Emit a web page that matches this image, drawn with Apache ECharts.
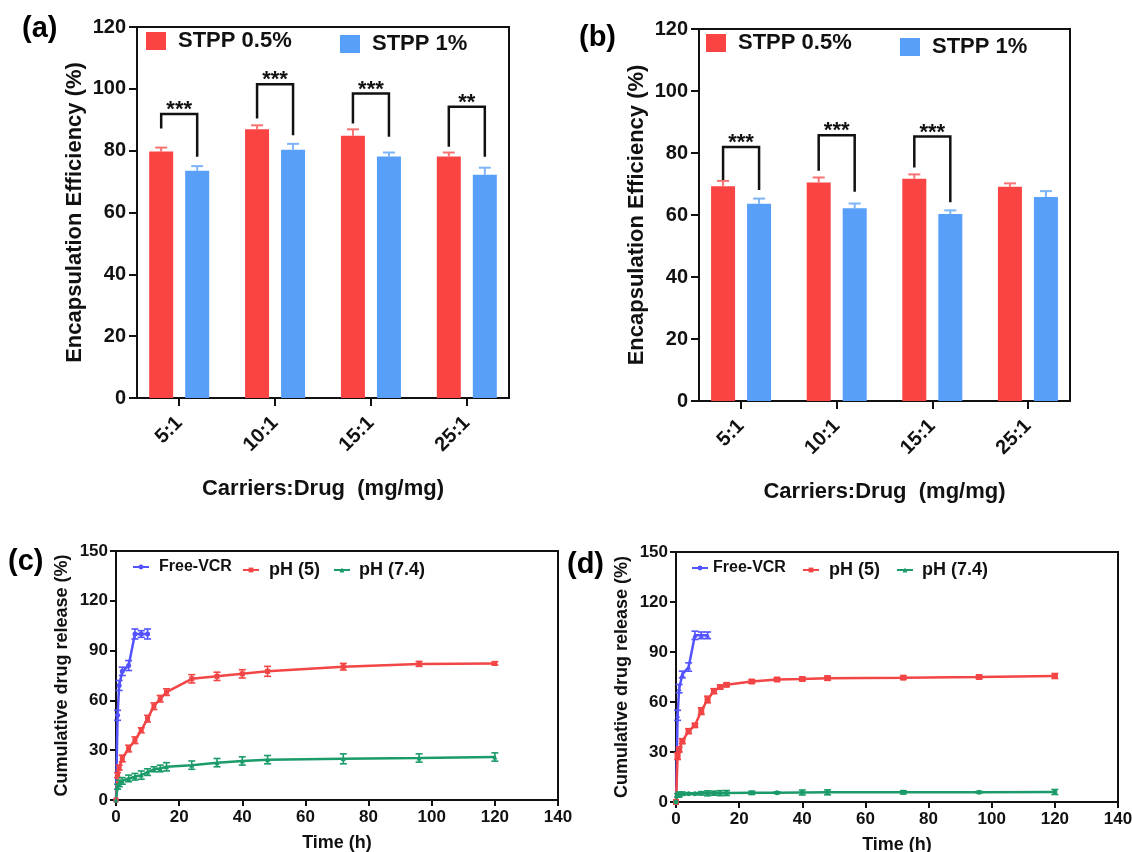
<!DOCTYPE html>
<html>
<head>
<meta charset="utf-8">
<title>Encapsulation efficiency and cumulative drug release</title>
<script src="https://cdn.jsdelivr.net/npm/echarts@6/dist/echarts.min.js"></script>
<style>
  html, body { margin: 0; padding: 0; background: #fff; }
  #chart { width: 1132px; height: 852px; }
</style>
</head>
<body>
<div id="chart"></div>
<script>
// ---- values ----
const ratios = ['5:1', '10:1', '15:1', '25:1'];
const ratioX = [1, 2, 3, 4];

// (a) encapsulation efficiency
const eeA05 = [79.7, 86.9, 84.8, 78.1];
const eeA05Err = [1.3, 1.3, 2.1, 1.3];
const eeA1 = [73.5, 80.3, 78.1, 72.2];
const eeA1Err = [1.5, 1.9, 1.3, 2.3];
const sigATop = [91.9, 101.5, 98.5, 94.2];
const sigALeft = [87.2, 90.4, 88.8, 81.3];
const sigARight = [78.0, 85.0, 84.5, 78.0];
const sigAStars = ['***', '***', '***', '**'];

// (b) encapsulation efficiency
const eeB05 = [69.3, 70.5, 71.7, 69.1];
const eeB05Err = [1.7, 1.6, 1.4, 1.1];
const eeB1 = [63.6, 62.2, 60.3, 65.8];
const eeB1Err = [1.7, 1.5, 1.2, 1.9];
const sigBTop = [81.9, 85.7, 85.3];
const sigBLeft = [71.3, 74.3, 75.3];
const sigBRight = [68.1, 67.5, 64.1];
const sigBStars = ['***', '***', '***'];

// (c), (d) release profiles
const tFree = [0, 0.5, 1, 2, 4, 6, 8, 10];
const tRel = [0, 0.5, 1, 2, 4, 6, 8, 10, 12, 14, 16, 24, 32, 40, 48, 72, 96, 120];

const freeC = [0, 51, 69, 77.5, 81, 100, 100, 100];
const freeCErr = [0, 3, 3, 2.5, 3, 3, 2, 3];
const ph5C = [0, 15, 19.5, 25, 31, 36, 42, 49, 56.5, 61, 65, 73, 74.5, 76, 77.5, 80.3, 82, 82.3];
const ph5CErr = [0, 1.5, 1.5, 2, 2, 2, 1.5, 2, 2, 2, 2, 2.5, 2.5, 2.5, 3, 2, 1.5, 1];
const ph74C = [0, 8, 10, 11.5, 13, 14, 15, 16.8, 18.5, 19, 20, 21, 22.5, 23.5, 24.3, 24.8, 25.3, 25.9];
const ph74CErr = [0, 1.5, 2, 2, 2, 2, 2.5, 2, 1.5, 2, 2.5, 2.5, 2.5, 2.5, 2.5, 3, 2.5, 2.5];

const freeD = [0, 52, 68, 76.5, 81, 100, 100, 100];
const freeDErr = [0, 3, 2.5, 2, 2.5, 2.5, 2, 2];
const ph5D = [0, 27.5, 31.5, 36.5, 42.5, 46, 54.5, 61.5, 66.5, 69, 70.3, 72.3, 73.5, 73.8, 74.3, 74.6, 75, 75.6];
const ph5DErr = [0, 2, 1.5, 1.5, 1.5, 1, 2, 2, 1.5, 1, 1, 1, 1, 1, 1.2, 0.8, 1, 1.5];
const ph74D = [0, 4, 4.5, 5, 5, 5, 5.2, 5.2, 5.3, 5.3, 5.4, 5.5, 5.6, 5.7, 5.8, 5.8, 5.9, 6];
const ph74DErr = [0, 1, 1.5, 1, 0.5, 0.5, 1, 1.5, 1.2, 1.5, 1.5, 1, 0.5, 1.5, 1.5, 1, 0.5, 1.5];

// ---- styling ----
const FONT = '"Liberation Sans", Arial, Helvetica, sans-serif';
const INK = '#111';
const RED = '#FA4343';
const BLUE = '#579FF9';
const RED_ERR = '#F87272';
const BLUE_ERR = '#7DB4F8';
const C_FREE = '#5353FF';
const C_PH5 = '#F24545';
const C_PH74 = '#1B9B69';

const BAR_W = 24;
const PAIR_DX = 18; // half of bar width + half of gap

const bold = (size) => ({ fontFamily: FONT, fontWeight: 'bold', fontSize: size, color: INK });

function pairs(xs, ys, es) {
  return xs.map((x, i) => (es ? [x, ys[i], es[i]] : [x, ys[i]]));
}

function barSeries(axis, name, color, values) {
  return {
    type: 'bar', name: name, xAxisIndex: axis, yAxisIndex: axis,
    barWidth: BAR_W, barGap: '50%', z: 2,
    itemStyle: { color: color },
    data: pairs(ratioX, values)
  };
}

// upper whisker only, the lower half is hidden by the bar
function barErrorSeries(axis, dx, color, values, errs) {
  return {
    type: 'custom', xAxisIndex: axis, yAxisIndex: axis, z: 3, silent: true,
    data: pairs(ratioX, values, errs),
    renderItem: (params, api) => {
      const base = api.coord([api.value(0), api.value(1)]);
      const top = api.coord([api.value(0), api.value(1) + api.value(2)]);
      const x = base[0] + dx;
      const st = { stroke: color, lineWidth: 2 };
      return {
        type: 'group',
        children: [
          { type: 'line', shape: { x1: x, y1: base[1], x2: x, y2: top[1] }, style: st },
          { type: 'line', shape: { x1: x - 6, y1: top[1], x2: x + 6, y2: top[1] }, style: st }
        ]
      };
    }
  };
}

function bracketSeries(axis, tops, lefts, rights, stars) {
  return {
    type: 'custom', xAxisIndex: axis, yAxisIndex: axis, z: 4, silent: true,
    data: tops.map((t, i) => [ratioX[i], t, lefts[i], rights[i]]),
    renderItem: (params, api) => {
      const x = api.value(0);
      const top = api.coord([x, api.value(1)]);
      const yl = api.coord([x, api.value(2)])[1];
      const yr = api.coord([x, api.value(3)])[1];
      const xl = top[0] - PAIR_DX;
      const xr = top[0] + PAIR_DX;
      return {
        type: 'group',
        children: [
          {
            type: 'polyline',
            shape: { points: [[xl, yl], [xl, top[1]], [xr, top[1]], [xr, yr]] },
            style: { stroke: INK, lineWidth: 2.5, fill: null, lineJoin: 'miter' }
          },
          {
            type: 'text', x: top[0], y: top[1] - 4,
            style: {
              text: stars[params.dataIndex], fill: INK,
              font: 'bold 22px ' + FONT, align: 'center', verticalAlign: 'middle'
            }
          }
        ]
      };
    }
  };
}

function lineSeries(axis, name, color, symbol, size, xs, ys) {
  return {
    type: 'line', name: name, xAxisIndex: axis, yAxisIndex: axis, z: 3,
    symbol: symbol, symbolSize: size, showSymbol: true,
    lineStyle: { color: color, width: 2.5 },
    itemStyle: { color: color },
    data: pairs(xs, ys)
  };
}

function lineErrorSeries(axis, color, xs, ys, es) {
  return {
    type: 'custom', xAxisIndex: axis, yAxisIndex: axis, z: 4, silent: true,
    data: pairs(xs, ys, es),
    renderItem: (params, api) => {
      const e = api.value(2);
      if (!e) return null;
      const hi = api.coord([api.value(0), api.value(1) + e]);
      const lo = api.coord([api.value(0), api.value(1) - e]);
      const x = hi[0];
      const st = { stroke: color, lineWidth: 1.6 };
      return {
        type: 'group',
        children: [
          { type: 'line', shape: { x1: x, y1: lo[1], x2: x, y2: hi[1] }, style: st },
          { type: 'line', shape: { x1: x - 3.5, y1: hi[1], x2: x + 3.5, y2: hi[1] }, style: st },
          { type: 'line', shape: { x1: x - 3.5, y1: lo[1], x2: x + 3.5, y2: lo[1] }, style: st }
        ]
      };
    }
  };
}

const axisLine = { show: true, onZero: false, lineStyle: { color: INK, width: 2 } };

function ratioXAxis(grid) {
  return {
    type: 'value', gridIndex: grid, min: 0.56, max: 4.44,
    name: 'Carriers:Drug  (mg/mg)', nameLocation: 'middle', nameGap: 80,
    nameMoveOverlap: false,
    nameTextStyle: bold(22),
    axisLine: axisLine,
    axisTick: { show: true, length: 8, customValues: ratioX, lineStyle: { color: INK, width: 2 } },
    axisLabel: Object.assign(bold(20), {
      customValues: ratioX, rotate: 45, margin: 22,
      formatter: (v) => ratios[Math.round(v) - 1]
    }),
    splitLine: { show: false }
  };
}

function eeYAxis(grid) {
  return {
    type: 'value', gridIndex: grid, min: 0, max: 120, interval: 20,
    name: 'Encapsulation Efficiency (%)', nameLocation: 'middle', nameGap: 51, nameRotate: 90,
    nameMoveOverlap: false,
    nameTextStyle: bold(22),
    axisLine: axisLine,
    axisTick: { show: true, length: 8, lineStyle: { color: INK, width: 2 } },
    axisLabel: Object.assign(bold(20), { margin: 11 }),
    splitLine: { show: false }
  };
}

function timeXAxis(grid) {
  return {
    type: 'value', gridIndex: grid, min: 0, max: 140, interval: 20,
    name: 'Time (h)', nameLocation: 'middle', nameGap: 34,
    nameMoveOverlap: false,
    nameTextStyle: bold(18),
    axisLine: axisLine,
    axisTick: { show: true, length: 6, lineStyle: { color: INK, width: 2 } },
    axisLabel: Object.assign(bold(17), { margin: 9 }),
    splitLine: { show: false }
  };
}

function releaseYAxis(grid) {
  return {
    type: 'value', gridIndex: grid, min: 0, max: 150, interval: 30,
    name: 'Cumulative drug release (%)', nameLocation: 'middle', nameGap: 45, nameRotate: 90,
    nameMoveOverlap: false,
    nameTextStyle: bold(18),
    axisLine: axisLine,
    axisTick: { show: true, length: 6, lineStyle: { color: INK, width: 2 } },
    axisLabel: Object.assign(bold(17), { margin: 8 }),
    splitLine: { show: false }
  };
}

function barLegend(name, left, top) {
  return {
    data: [name], left: left, top: top, padding: 0,
    icon: 'rect', itemWidth: 20, itemHeight: 18,
    textStyle: Object.assign(bold(22), { padding: [0, 0, 0, 7] })
  };
}

function lineLegend(name, left, top, size, gap) {
  return {
    data: [name], left: left, top: top, padding: 0,
    itemWidth: 16, itemHeight: 6,
    textStyle: Object.assign(bold(size), { padding: [0, 0, 0, gap] })
  };
}

function panelLabel(text, x, y) {
  return {
    type: 'text', x: x, y: y,
    style: { text: text, fill: '#000', font: 'bold 29px ' + FONT, verticalAlign: 'middle' }
  };
}

const gridBox = { show: true, borderColor: INK, borderWidth: 2, containLabel: false, outerBoundsMode: 'none' };

const option = {
  animation: false,
  backgroundColor: '#fff',
  textStyle: { fontFamily: FONT },
  grid: [
    Object.assign({ left: 137, top: 27, width: 372, height: 371 }, gridBox),
    Object.assign({ left: 699, top: 29, width: 371, height: 372 }, gridBox),
    Object.assign({ left: 116, top: 551, width: 442, height: 249 }, gridBox),
    Object.assign({ left: 676, top: 552, width: 442, height: 250 }, gridBox)
  ],
  xAxis: [ratioXAxis(0), ratioXAxis(1), timeXAxis(2), timeXAxis(3)],
  yAxis: [eeYAxis(0), eeYAxis(1), releaseYAxis(2), releaseYAxis(3)],
  legend: [
    barLegend('STPP 0.5%', 146, 30),
    barLegend('STPP 1%', 340, 33),
    barLegend('STPP 0.5%', 706, 32),
    barLegend('STPP 1%', 900, 36),
    lineLegend('Free-VCR', 132, 559, 16, 5),
    lineLegend('pH (5)', 242, 561, 18, 5),
    lineLegend('pH (7.4)', 333, 561, 18, 4),
    lineLegend('Free-VCR', 691, 560, 16, 0),
    lineLegend('pH (5)', 802, 561, 18, 5),
    lineLegend('pH (7.4)', 896, 561, 18, 4)
  ],
  graphic: [
    panelLabel('(a)', 22, 29),
    panelLabel('(b)', 579, 38),
    panelLabel('(c)', 8, 562),
    panelLabel('(d)', 567, 565)
  ],
  series: [
    // (a)
    barSeries(0, 'STPP 0.5%', RED, eeA05),
    barSeries(0, 'STPP 1%', BLUE, eeA1),
    barErrorSeries(0, -PAIR_DX, RED_ERR, eeA05, eeA05Err),
    barErrorSeries(0, PAIR_DX, BLUE_ERR, eeA1, eeA1Err),
    bracketSeries(0, sigATop, sigALeft, sigARight, sigAStars),
    // (b)
    barSeries(1, 'STPP 0.5%', RED, eeB05),
    barSeries(1, 'STPP 1%', BLUE, eeB1),
    barErrorSeries(1, -PAIR_DX, RED_ERR, eeB05, eeB05Err),
    barErrorSeries(1, PAIR_DX, BLUE_ERR, eeB1, eeB1Err),
    bracketSeries(1, sigBTop, sigBLeft, sigBRight, sigBStars),
    // (c)
    lineSeries(2, 'Free-VCR', C_FREE, 'circle', 5, tFree, freeC),
    lineSeries(2, 'pH (5)', C_PH5, 'rect', 5, tRel, ph5C),
    lineSeries(2, 'pH (7.4)', C_PH74, 'triangle', 5, tRel, ph74C),
    lineErrorSeries(2, C_FREE, tFree, freeC, freeCErr),
    lineErrorSeries(2, C_PH5, tRel, ph5C, ph5CErr),
    lineErrorSeries(2, C_PH74, tRel, ph74C, ph74CErr),
    // (d)
    lineSeries(3, 'Free-VCR', C_FREE, 'triangle', 5, tFree, freeD),
    lineSeries(3, 'pH (5)', C_PH5, 'rect', 6, tRel, ph5D),
    lineSeries(3, 'pH (7.4)', C_PH74, 'circle', 5, tRel, ph74D),
    lineErrorSeries(3, C_FREE, tFree, freeD, freeDErr),
    lineErrorSeries(3, C_PH5, tRel, ph5D, ph5DErr),
    lineErrorSeries(3, C_PH74, tRel, ph74D, ph74DErr)
  ]
};

const chart = echarts.init(document.getElementById('chart'));
chart.setOption(option);
</script>
</body>
</html>
